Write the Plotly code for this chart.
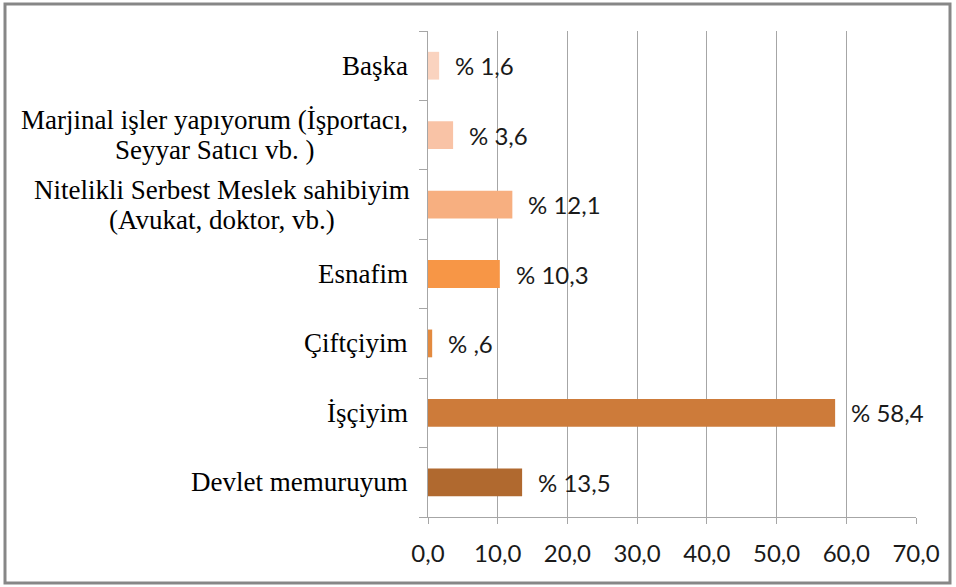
import plotly.graph_objects as go

# Categories listed bottom -> top, as they appear on the chart
categories = [
    "Devlet memuruyum",
    "İşçiyim",
    "Çiftçiyim",
    "Esnafim",
    "Nitelikli Serbest Meslek sahibiyim<br>(Avukat, doktor, vb.)",
    "Marjinal işler yapıyorum (İşportacı,<br>Seyyar Satıcı vb. )",
    "Başka",
]
values = [13.5, 58.4, 0.6, 10.3, 12.1, 3.6, 1.6]
bar_colors = ["#B0692F", "#CD7B3A", "#E38A3F", "#F79646", "#F7AF80", "#F9C3A6", "#FAD3BF"]
x_ticks = [0, 10, 20, 30, 40, 50, 60, 70]


def pct_label(v):
    """ Turkish style label: comma decimal, no leading zero """
    s = f"{v:.1f}".replace(".", ",")
    if s.startswith("0,"):
        s = s[1:]
    return "% " + s


ids = [f"c{i}" for i in range(len(categories))]

fig = go.Figure(
    go.Bar(
        x=values,
        y=ids,
        orientation="h",
        width=0.4,
        marker=dict(color=bar_colors, line=dict(width=0)),
        showlegend=False,
        hoverinfo="x",
    )
)

serif = dict(family="Liberation Serif", size=27, color="#000000")
sans = dict(family="Lato", size=24, color="#1a1a1a")
line_step = 30
# pixel offset (from plot left edge) of the centre of two-line label blocks
block_centre = {4: -206, 5: -214}

annotations = []
for i, (cid, cat, v) in enumerate(zip(ids, categories, values)):
    lines = cat.split("<br>")
    n = len(lines)
    for k, line in enumerate(lines):
        ann = dict(
            x=0, xref="paper", y=cid, yref="y", text=line, showarrow=False,
            yshift=((n - 1) / 2 - k) * line_step,
            font=serif,
        )
        if n > 1:
            ann.update(xanchor="center", xshift=block_centre[i])
        else:
            ann.update(xanchor="right", xshift=-18)
        annotations.append(ann)
    # value labels
    annotations.append(
        dict(
            x=v, xref="x", y=cid, yref="y", text=pct_label(v), showarrow=False,
            xanchor="left", xshift=14,
            font=sans,
        )
    )

W, H = 956, 587
ml, mr, mt, mb = 428, 40, 31, 70
pw, ph = W - ml - mr, H - mt - mb


def px_x(p):
    return (p - ml) / pw


def px_y(p):
    return 1 - (p - mt) / ph


fig.update_layout(
    width=W,
    height=H,
    margin=dict(l=ml, r=mr, t=mt, b=mb, pad=0),
    paper_bgcolor="white",
    plot_bgcolor="white",
    annotations=annotations,
    xaxis=dict(
        range=[0, 70],
        tickvals=x_ticks,
        ticktext=[f"{t:.1f}".replace(".", ",") for t in x_ticks],
        showgrid=True,
        gridcolor="#A6A6A6",
        gridwidth=1,
        zeroline=False,
        showline=True,
        linecolor="#A6A6A6",
        linewidth=1,
        ticks="outside",
        ticklen=6,
        tickcolor="#A6A6A6",
        ticklabelstandoff=9,
        tickfont=sans,
    ),
    yaxis=dict(
        categoryorder="array",
        categoryarray=ids,
        showticklabels=False,
        showgrid=False,
        zeroline=False,
        showline=True,
        linecolor="#A6A6A6",
        linewidth=1,
        ticks="outside",
        ticklen=8,
        tickcolor="#A6A6A6",
        tickson="boundaries",
    ),
    shapes=[
        dict(
            type="rect", xref="paper", yref="paper",
            x0=px_x(5), x1=px_x(950), y0=px_y(583), y1=px_y(4),
            line=dict(color="#878787", width=3), fillcolor="rgba(0,0,0,0)",
            layer="below",
        )
    ],
)

fig.write_html(
    "out.html",
    config={"displayModeBar": False},
    post_script="document.body.style.margin='0';",
)
